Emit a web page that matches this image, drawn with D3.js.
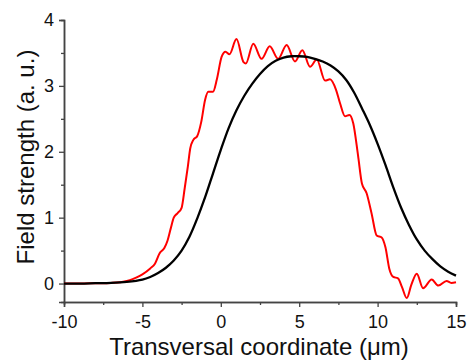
<!DOCTYPE html>
<html>
<head>
<meta charset="utf-8">
<script src="https://cdn.jsdelivr.net/npm/d3@7"></script>
<style>
  body { margin: 0; background: #fff; }
  svg { font-family: "Liberation Sans", Arial, sans-serif; }
</style>
</head>
<body>
<div id="chart"></div>
<script>
// black reference profile
const blackX = [-10, -9, -8, -7, -6, -5, -4.5, -4, -3.5, -3, -2.5, -2, -1.5, -1, -0.5, 0, 0.5, 1, 1.5, 2, 2.5, 3, 3.5, 4, 4.5, 5,
  5.5, 6, 6.5, 7, 7.5, 8, 8.5, 9, 9.5, 10, 10.5, 11, 11.5, 12, 12.5, 13, 13.5, 14, 14.5, 15];
const blackY = [0, 0, 0.005, 0.01, 0.025, 0.06, 0.1, 0.16, 0.24, 0.35, 0.5, 0.71, 0.99, 1.31, 1.67, 2.03, 2.36, 2.63, 2.85, 3.03, 3.18, 3.3, 3.38, 3.43, 3.45, 3.45,
  3.44, 3.41, 3.37, 3.31, 3.22, 3.09, 2.9, 2.66, 2.41, 2.12, 1.8, 1.46, 1.15, 0.89, 0.67, 0.5, 0.37, 0.26, 0.18, 0.12];

// red measured profile
const redX = [-10, -9, -8, -7, -6.4, -5.8, -5.4, -5, -4.5, -4.2, -3.9, -3.6, -3.4, -3.2, -3, -2.75, -2.5, -2.3, -2.1, -1.95, -1.75, -1.5,
  -1.25, -1, -0.8, -0.5, -0.25, 0.05, 0.3, 0.55, 1, 1.45, 1.6, 2.07, 2.6, 3.12, 3.66, 4.2, 4.73, 5.2, 5.69, 6.12, 6.65, 6.96,
  7.35, 7.6, 7.92, 8.2, 8.45, 8.75, 9, 9.3, 9.62, 9.94, 10.26, 10.5, 10.75, 11, 11.3, 11.55, 11.86, 12.15, 12.5, 12.9, 13.45,
  13.87, 14.4, 14.7, 15];
const redY = [0, 0, 0.005, 0.01, 0.02, 0.05, 0.09, 0.14, 0.23, 0.3, 0.46, 0.54, 0.65, 0.83, 1, 1.07, 1.15, 1.45, 1.78, 2.05, 2.18, 2.24,
  2.45, 2.79, 2.91, 2.91, 3.1, 3.44, 3.52, 3.48, 3.71, 3.36, 3.34, 3.64, 3.41, 3.6, 3.41, 3.62, 3.37, 3.54, 3.29, 3.4, 3.08, 3.1,
  2.94, 2.74, 2.54, 2.56, 2.43, 1.95, 1.52, 1.37, 1.06, 0.73, 0.7, 0.55, 0.22, 0.1, 0.08, -0.05, -0.22, -0.02, 0.15, -0.07, 0.06,
  -0.03, 0.04, 0.01, 0.02];

const xTicks = [-10, -5, 0, 5, 10, 15];
const xMinor = [-7.5, -2.5, 2.5, 7.5, 12.5];
const yTicks = [0, 1, 2, 3, 4];
const yMinor = [0.5, 1.5, 2.5, 3.5];

const W = 471, H = 362;
const margin = { top: 20, right: 15, bottom: 60, left: 64 };
const width = W - margin.left - margin.right,
      height = H - margin.top - margin.bottom;

const svg = d3.select('#chart').append('svg')
  .attr('width', W).attr('height', H);
const g = svg.append('g')
  .attr('transform', `translate(${margin.left},${margin.top})`);

const x = d3.scaleLinear().domain([-10, 15]).range([0, width]);
const y = d3.scaleLinear().domain([-0.28, 4]).range([height, 0]);

const axisColor = '#444';

function styleAxis(sel) {
  sel.select('.domain').attr('stroke', axisColor).attr('stroke-width', 1.5);
  sel.selectAll('.tick line').attr('stroke', axisColor).attr('stroke-width', 1.3);
  sel.selectAll('.tick text').attr('fill', '#111').attr('font-size', 18);
}

// minor ticks first
g.append('g').attr('transform', `translate(0,${height})`)
  .call(d3.axisBottom(x).tickValues(xMinor).tickSize(3).tickFormat(''))
  .call(styleAxis);
g.append('g')
  .call(d3.axisLeft(y).tickValues(yMinor).tickSize(3).tickFormat(''))
  .call(styleAxis);

// major ticks
g.append('g').attr('transform', `translate(0,${height})`)
  .call(d3.axisBottom(x).tickValues(xTicks).tickSize(5).tickPadding(8).tickFormat(d => String(d)))
  .call(styleAxis);
g.append('g')
  .call(d3.axisLeft(y).tickValues(yTicks).tickSize(5).tickPadding(5).tickFormat(d => String(d)))
  .call(styleAxis);

const redLine = d3.line()
  .x(d => x(d[0]))
  .y(d => y(d[1]))
  .curve(d3.curveMonotoneX);

const blackLine = d3.line()
  .x(d => x(d[0]))
  .y(d => y(d[1]))
  .curve(d3.curveCatmullRom.alpha(0.5));

g.append('path')
  .datum(redX.map((v, i) => [v, redY[i]]))
  .attr('fill', 'none')
  .attr('stroke', '#ff0000')
  .attr('stroke-width', 2)
  .attr('d', redLine);

g.append('path')
  .datum(blackX.map((v, i) => [v, blackY[i]]))
  .attr('fill', 'none')
  .attr('stroke', '#000')
  .attr('stroke-width', 2.3)
  .attr('d', blackLine);

// axis titles
svg.append('text')
  .attr('x', 259).attr('y', 355)
  .attr('text-anchor', 'middle')
  .attr('font-size', 24)
  .attr('fill', '#111')
  .text('Transversal coordinate (μm)');

svg.append('text')
  .attr('transform', 'translate(34,157) rotate(-90)')
  .attr('text-anchor', 'middle')
  .attr('font-size', 24)
  .attr('fill', '#111')
  .text('Field strength (a. u.)');
</script>
</body>
</html>
